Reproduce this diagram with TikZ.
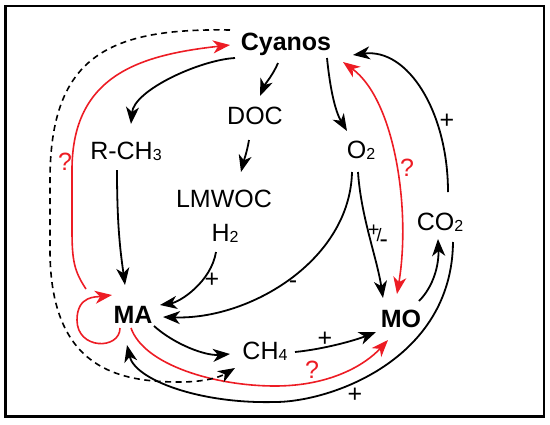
\documentclass[tikz,border=0pt]{standalone}
\usepackage{fontspec}
\setmainfont{Liberation Sans}
\usepackage{tikz}
\usetikzlibrary{calc,arrows.meta}
\definecolor{qred}{RGB}{237,28,36}
\tikzset{>={Stealth[length=17pt, width=13pt, inset=5pt]}}
\tikzstyle{txt}=[inner sep=0, anchor=base, font=\fontsize{25}{30}\selectfont]
\tikzstyle{bigtxt}=[txt, font=\fontsize{25}{30}\selectfont\bfseries]
\tikzstyle{lbl}=[inner sep=0, font=\fontsize{25}{30}\selectfont]
\tikzstyle{arr}=[line width=1.8pt, ->]
\tikzstyle{redarr}=[arr, draw=qred, line width=1.6pt]
\tikzstyle{dasharr}=[arr, line width=1.6pt, dash pattern=on 6pt off 4.5pt]
\newcommand{\sbs}[1]{\raisebox{-1pt}{\fontsize{16}{16}\selectfont #1}}

\begin{document}
\begin{tikzpicture}[x=1pt, y=-1pt]
\useasboundingbox (0,0) rectangle (550,424);
\draw[line width=2.5pt] (5.5,6) rectangle (544,416.5);

\node[bigtxt] (cyanos) at (286,50) {Cyanos};
\node[txt] (doc) at (255,124) {DOC};
\node[txt] (rch) at (126,159) {R-CH\sbs{3}};
\node[txt] (o2) at (361,158) {O\sbs{2}};
\node[txt] (lmwoc) at (224,207) {LMWOC};
\node[txt] (h2) at (225,241) {H\sbs{2}};
\node[bigtxt] (ma) at (133,323) {MA};
\node[bigtxt] (mo) at (401,327) {MO};
\node[txt] (ch4) at (265,359) {CH\sbs{4}};
\node[txt] (co2) at (440,230) {CO\sbs{2}};

\node[lbl, text=qred] (q1) at (65,162) {?};
\node[lbl, text=qred] (q2) at (407,168) {?};
\node[lbl, text=qred] (q3) at (312,370) {?};
\node[lbl] (p1) at (447,121) {+};
\node[lbl] (p2) at (212,280) {+};
\node[lbl] (m1) at (293,285) {-};
\node[lbl] (pm) at (378,236) {\raisebox{5pt}{\fontsize{20}{20}\selectfont +}\kern-3pt{\fontsize{18}{18}\selectfont /}\kern-2pt\raisebox{-6pt}{-}};
\node[lbl] (p3) at (325,339) {+};
\node[lbl] (p4) at (355,395) {+};

\draw[arr] ($(cyanos.base)+(-51,8)$) .. controls +(-35,2) and +(3,-34) .. ($(rch.base)+(5,-35)$);
\draw[arr] ($(cyanos.base)+(-8,13)$) .. controls +(-5,12) and +(5,-12) .. ($(doc.base)+(5,-28)$);
\draw[arr] ($(cyanos.base)+(41,8)$) .. controls +(3,30) and +(-12,-20) .. ($(o2.base)+(-14,-27)$);
\draw[arr] ($(doc.base)+(-6,16)$) .. controls +(-2,12) and +(3,-12) .. ($(lmwoc.base)+(17,-35)$);
\draw[arr] ($(rch.base)+(-9,11)$) .. controls +(0,60) and +(-4,-30) .. ($(ma.base)+(-8,-38)$);
\draw[arr] ($(h2.base)+(-9,11)$) .. controls +(-5,30) and +(20,-3) .. ($(ma.base)+(27,-18)$);
\draw[arr] ($(o2.base)+(-9,14)$) .. controls +(-2,88) and +(87,3) .. ($(ma.base)+(30,-6)$);
\draw[arr] ($(o2.base)+(-3,14)$) .. controls +(3,45) and +(-6,-40) .. ($(mo.base)+(-18,-29)$);
\draw[arr] ($(ma.base)+(21,3)$) .. controls +(20,18) and +(-25,2) .. ($(ch4.base)+(-35,-5)$);
\draw[arr] ($(ch4.base)+(30,-7)$) .. controls +(30,-3) and +(-20,8) .. ($(mo.base)+(-25,5)$);
\draw[arr] ($(mo.base)+(18,-26)$) .. controls +(15,-15) and +(1,25) .. ($(co2.base)+(-2,9)$);
\draw[arr] ($(co2.base)+(8,-38)$) .. controls +(0,-80) and +(55,-7) .. ($(cyanos.base)+(67,5)$);
\draw[arr] ($(co2.base)+(13,12)$) .. controls +(-1,118) and +(55,0) .. ($(ma.base)+(142,79)$) .. controls +(-75,2) and +(8,35) .. ($(ma.base)+(-6,22)$);

\draw[redarr] ($(ma.base)+(-47,-34)$) .. controls +(-12,-18) and +(0,30) .. ($(ma.base)+(-61,-93)$) -- ($(ma.base)+(-61,-153)$) .. controls +(0,-95) and +(-90,10) .. ($(cyanos.base)+(-56,-5)$);
\draw[redarr] ($(ma.base)+(-13,5)$) .. controls +(0,22) and +(0,30) .. ($(ma.base)+(-56,-3)$) .. controls +(0,-25) and +(-15,2) .. ($(ma.base)+(-21,-28)$);
\draw[redarr, <->] ($(mo.base)+(-4,-33)$) .. controls +(14,-84) and +(52,38) .. ($(cyanos.base)+(57,12)$);
\draw[redarr] ($(ma.base)+(-2,5)$) .. controls +(13,37) and +(-60,0) .. ($(ma.base)+(142,63)$) .. controls +(55,0) and +(-23,25) .. ($(mo.base)+(-13,13)$);

\draw[dasharr] ($(cyanos.base)+(-56,-20)$) .. controls +(-120,-2) and +(0,-125) .. ($(ma.base)+(-83,-143)$) -- ($(ma.base)+(-83,-73)$) .. controls +(0,120) and +(-60,0) .. ($(ma.base)+(47,59)$) .. controls +(25,0) and +(-15,9) .. ($(ch4.base)+(-30,9)$);
\end{tikzpicture}
\end{document}
